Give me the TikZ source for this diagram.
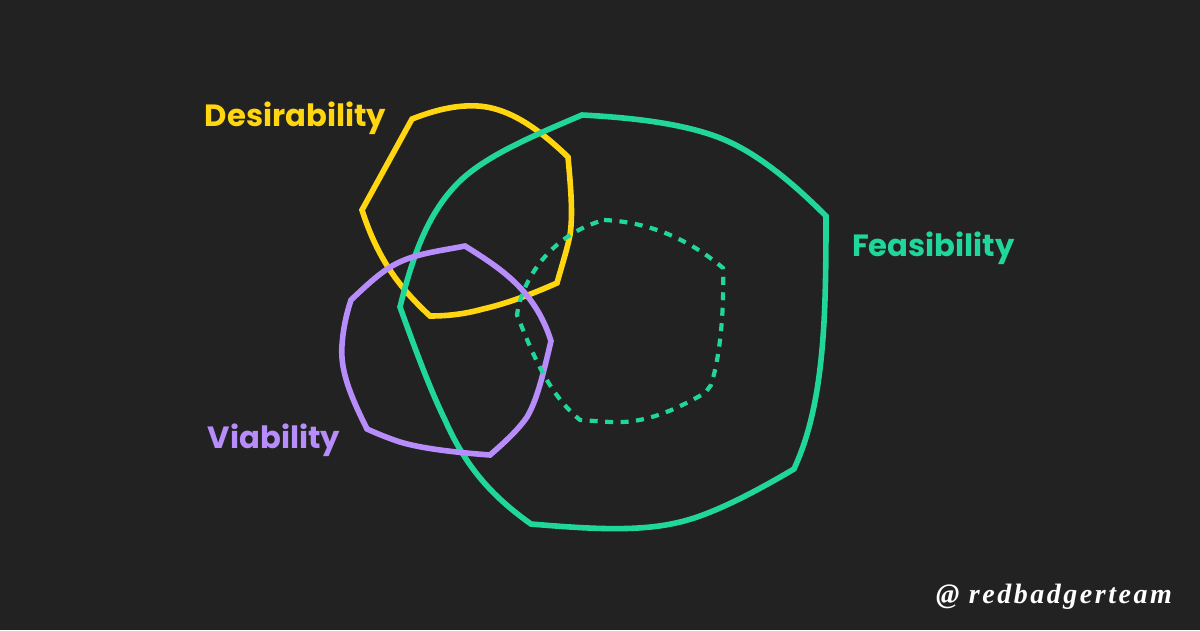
\documentclass[tikz,border=0pt]{standalone}
\usepackage{fontspec}
\setmainfont{Poppins}
\newfontfamily\handfont[LetterSpace=9]{Liberation Serif}
\definecolor{bgc}{HTML}{222222}
\definecolor{yel}{HTML}{FFD60F}
\definecolor{grn}{HTML}{21D69A}
\definecolor{pur}{HTML}{B78DFB}
\tikzset{
 blob/.style={line width=5.6pt,line join=miter,miter limit=10},
 dotblob/.style={line width=4.2pt,dash pattern=on 8pt off 7.5pt,color=grn},
 lab/.style={font=\bfseries\fontsize{30.7}{31}\selectfont,inner sep=0pt,anchor=center},
 hand/.style={font=\handfont\itshape\bfseries\fontsize{28}{28}\selectfont,inner sep=0pt,text=white,anchor=center}
}
\begin{document}
\begin{tikzpicture}[x=1pt,y=-1pt]
\fill[bgc] (0,0) rectangle (1200,630);
\useasboundingbox (0,0) rectangle (1200,630);
% Desirability
\draw[blob,yel] (412,119) .. controls (440,108) and (460,105) .. (478,106)
 .. controls (510,108) and (540,130) .. (568,157)
 .. controls (571,190) and (573,215) .. (570,235)
 .. controls (567,250) and (562,265) .. (557,283)
 .. controls (530,295) and (505,304) .. (483,309)
 .. controls (465,314) and (448,316) .. (430,316)
 .. controls (400,288) and (378,260) .. (362,210) -- cycle;
% Feasibility
\draw[blob,grn] (582,115) .. controls (640,118) and (690,125) .. (725,140)
 .. controls (760,155) and (795,185) .. (826,216)
 .. controls (826,290) and (825,340) .. (817,390)
 .. controls (812,420) and (805,445) .. (794,469)
 .. controls (750,495) and (710,515) .. (680,522)
 .. controls (640,532) and (590,529) .. (531,524)
 .. controls (490,495) and (465,465) .. (445,420)
 .. controls (428,385) and (412,340) .. (400,307)
 .. controls (413,255) and (428,212) .. (460,181)
 .. controls (488,154) and (540,133) .. (582,115) -- cycle;
% Viability
\draw[blob,pur] (465,246) .. controls (500,268) and (535,290) .. (551,341)
 .. controls (543,375) and (537,400) .. (527,417)
 .. controls (518,430) and (505,442) .. (490,455)
 .. controls (450,452) and (420,448) .. (400,442)
 .. controls (388,438) and (378,434) .. (367,429)
 .. controls (350,395) and (340,370) .. (342,345)
 .. controls (343,330) and (346,315) .. (351,300)
 .. controls (370,282) and (385,268) .. (402,261)
 .. controls (420,253) and (445,250) .. (465,246) -- cycle;
% inner dashed
\draw[dotblob] (604,220) .. controls (650,222) and (690,240) .. (723,268)
 .. controls (724,300) and (722,350) .. (711,385)
 -- (705,393)
 .. controls (675,410) and (645,424) .. (610,422)
 -- (580,420)
 .. controls (550,395) and (535,360) .. (517,315)
 .. controls (522,280) and (550,235) .. (604,220);
\node[lab,text=yel] (des) at (295.5,118) {Desirability};
\node[lab,text=grn] (fea) at (933.5,248) {Feasibility};
\node[lab,text=pur] (via) at (274,440) {Viability};
\node[hand] (tag) at (1054,597) {@ redbadgerteam};
\end{tikzpicture}
\end{document}
